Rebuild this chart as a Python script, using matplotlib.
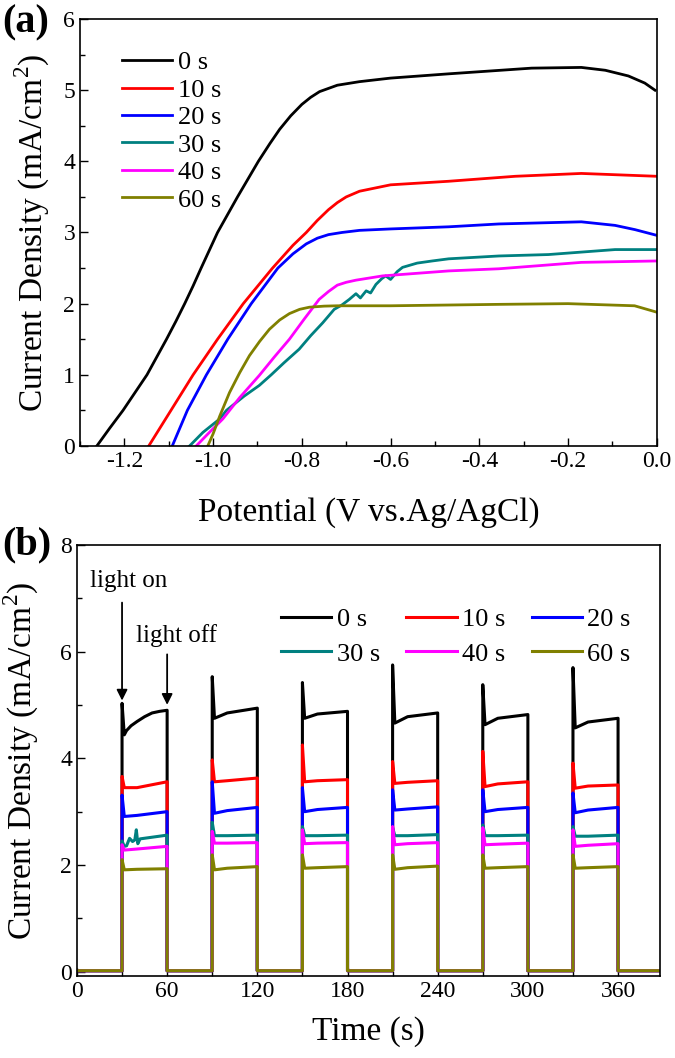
import matplotlib
matplotlib.use("Agg")
import matplotlib.pyplot as plt
from matplotlib.ticker import MultipleLocator

plt.rcParams['font.family'] = ['Liberation Serif', 'DejaVu Serif']
plt.rcParams['mathtext.fontset'] = 'custom'
plt.rcParams['mathtext.rm'] = 'Liberation Serif'

labels = ["0 s", "10 s", "20 s", "30 s", "40 s", "60 s"]
colors = ["#000000", "#ff0000", "#0000ff", "#008080", "#ff00ff", "#808000"]

# (a) LSV curves: potential (V) and current density (mA/cm2)
v0 = [-1.262, -1.233, -1.203, -1.176, -1.149, -1.127, -1.105, -1.084, -1.064, -1.045, -1.027, -0.99, -0.945, -0.898,
      -0.872, -0.85, -0.825, -0.80, -0.78, -0.76, -0.72, -0.67, -0.6, -0.469, -0.282, -0.17, -0.116, -0.064, -0.027, -0.004]
j0 = [0.0, 0.25, 0.5, 0.75, 1.0, 1.25, 1.5, 1.75, 2.0, 2.25, 2.5, 3.0, 3.5, 4.0,
      4.25, 4.45, 4.64, 4.8, 4.9, 4.98, 5.07, 5.12, 5.17, 5.23, 5.31, 5.32, 5.28, 5.2, 5.1, 5.0]
v10 = [-1.145, -1.095, -1.045, -0.99, -0.932, -0.866, -0.82, -0.79, -0.765, -0.74, -0.72, -0.70, -0.67, -0.6, -0.469, -0.319, -0.17, 0.0]
j10 = [0.0, 0.5, 1.0, 1.5, 2.0, 2.5, 2.82, 3.0, 3.17, 3.32, 3.42, 3.5, 3.58, 3.67, 3.72, 3.79, 3.83, 3.79]
v20 = [-1.092, -1.058, -1.015, -0.967, -0.914, -0.854, -0.82, -0.79, -0.765, -0.74, -0.71, -0.67, -0.6, -0.469, -0.356, -0.17, -0.094, -0.049, 0.0]
j20 = [0.0, 0.5, 1.0, 1.5, 2.0, 2.5, 2.7, 2.84, 2.92, 2.97, 3.0, 3.03, 3.05, 3.08, 3.12, 3.15, 3.1, 3.04, 2.96]
v30 = [-1.053, -1.023, -0.985, -0.97, -0.93, -0.896, -0.869, -0.84, -0.806, -0.78, -0.753, -0.727, -0.71, -0.693, -0.678, -0.668,
       -0.655, -0.645, -0.633, -0.62, -0.611, -0.6, -0.585, -0.573, -0.54, -0.506, -0.469, -0.356, -0.244, -0.094, 0.0]
j30 = [0.0, 0.19, 0.38, 0.5, 0.7, 0.85, 1.0, 1.17, 1.36, 1.55, 1.73, 1.92, 1.98, 2.06, 2.14, 2.08,
       2.18, 2.15, 2.27, 2.35, 2.39, 2.34, 2.45, 2.51, 2.57, 2.6, 2.63, 2.67, 2.69, 2.76, 2.76]
v40 = [-1.038, -1.01, -0.978, -0.94, -0.896, -0.862, -0.828, -0.795, -0.761, -0.74, -0.72, -0.70, -0.678, -0.618, -0.469, -0.356, -0.17, 0.0]
j40 = [0.0, 0.18, 0.38, 0.68, 0.99, 1.25, 1.5, 1.78, 2.06, 2.17, 2.26, 2.3, 2.33, 2.39, 2.46, 2.49, 2.58, 2.6]
v60 = [-1.012, -1.0, -0.985, -0.963, -0.94, -0.918, -0.895, -0.873, -0.85, -0.828, -0.805, -0.783, -0.75, -0.72,
       -0.6, -0.356, -0.2, -0.05, 0.0]
j60 = [0.0, 0.17, 0.42, 0.75, 1.03, 1.27, 1.47, 1.64, 1.77, 1.86, 1.92, 1.95, 1.965, 1.97,
       1.97, 1.99, 2.0, 1.97, 1.88]

# (b) chopped-light transients, six on/off cycles
t_on = [30, 90, 150, 210, 270, 330]
t_off = [60, 120, 180, 240, 300, 360]
dark = 0.02
spike = {
    "0 s": [5.03, 5.53, 5.42, 5.75, 5.38, 5.7],
    "10 s": [3.66, 3.97, 4.25, 3.94, 4.13, 3.91],
    "20 s": [3.31, 3.56, 3.45, 3.41, 3.41, 3.35],
    "30 s": [2.45, 2.8, 2.72, 2.7, 2.75, 2.72],
    "40 s": [2.38, 2.63, 2.66, 2.72, 2.7, 2.66],
    "60 s": [2.1, 2.19, 2.19, 2.19, 2.19, 2.19],
}
start = {
    "0 s": [4.44, 4.75, 4.75, 4.66, 4.63, 4.57],
    "10 s": [3.45, 3.56, 3.56, 3.53, 3.47, 3.44],
    "20 s": [2.91, 2.97, 3.0, 3.03, 3.0, 2.98],
    "30 s": [2.35, 2.55, 2.55, 2.55, 2.55, 2.54],
    "40 s": [2.28, 2.41, 2.4, 2.38, 2.38, 2.35],
    "60 s": [1.91, 1.91, 1.94, 1.92, 1.94, 1.94],
}
mid = {
    "0 s": [4.69, 4.85, 4.83, 4.78, 4.75, 4.68],
    "10 s": [3.45, 3.58, 3.58, 3.55, 3.52, 3.48],
    "20 s": [2.93, 3.02, 3.04, 3.05, 3.04, 3.03],
    "30 s": [2.5, 2.55, 2.55, 2.55, 2.55, 2.54],
    "40 s": [2.3, 2.41, 2.41, 2.4, 2.39, 2.37],
    "60 s": [1.92, 1.94, 1.95, 1.95, 1.95, 1.95],
}
end = {
    "0 s": [4.9, 4.94, 4.88, 4.85, 4.82, 4.75],
    "10 s": [3.56, 3.63, 3.6, 3.58, 3.56, 3.5],
    "20 s": [3.0, 3.08, 3.08, 3.09, 3.08, 3.08],
    "30 s": [2.56, 2.56, 2.56, 2.57, 2.56, 2.56],
    "40 s": [2.35, 2.42, 2.42, 2.42, 2.41, 2.4],
    "60 s": [1.93, 1.97, 1.97, 1.98, 1.97, 1.97],
}
# finer readings of the first cycle (curved rise of 0 s, noise of 30 s)
t0_first = [33, 36, 40, 45, 50, 55]
j0_first = [4.52, 4.61, 4.69, 4.78, 4.85, 4.88]
t30_first = [33, 35, 37, 38.5, 39.5, 40.5, 42]
j30_first = [2.36, 2.5, 2.44, 2.47, 2.66, 2.4, 2.49]
first_cycle = {"0 s": (t0_first, j0_first), "30 s": (t30_first, j30_first)}

fig = plt.figure(figsize=(6.75, 10.58), dpi=100)
ax1 = fig.add_axes([0.1185, 0.5785, 0.8545, 0.4035])
ax2 = fig.add_axes([0.114, 0.0775, 0.864, 0.4075])

lsv = [(v0, j0), (v10, j10), (v20, j20), (v30, j30), (v40, j40), (v60, j60)]
for (v, j), c, lab in zip(lsv, colors, labels):
    ax1.plot(v, j, color=c, lw=2.0, label=lab)

ax1.set_xlim(-1.3, 0.0)
ax1.set_ylim(0, 6)
ax1.xaxis.set_minor_locator(MultipleLocator(0.1))
ax1.yaxis.set_major_locator(MultipleLocator(1))
ax1.yaxis.set_minor_locator(MultipleLocator(0.5))
ax1.set_xticks([-1.2, -1.0, -0.8, -0.6, -0.4, -0.2, 0.0])
ax1.set_xticklabels(["-1.2", "-1.0", "-0.8", "-0.6", "-0.4", "-0.2", "0.0"])
ax1.set_xlabel("Potential (V vs.Ag/AgCl)", fontsize=24, labelpad=18)
ax1.set_ylabel("Current Density (mA/cm$^2$)", fontsize=24, labelpad=8)
ax1.legend(loc="upper left", bbox_to_anchor=(0.055, 0.95), frameon=False, fontsize=19,
           handlelength=1.9, handletextpad=0.2, labelspacing=0.15, borderaxespad=0)

for lab, c in zip(labels, colors):
    t = [0]
    j = [dark]
    for k in range(len(t_on)):
        seg_t = [t_on[k], t_on[k], t_on[k] + 1.5, t_on[k] + 10, t_off[k], t_off[k]]
        seg_j = [dark, spike[lab][k], start[lab][k], mid[lab][k], end[lab][k], dark]
        if k == 0 and lab in first_cycle:
            ft, fj = first_cycle[lab]
            seg_t = seg_t[:3] + ft + seg_t[4:]
            seg_j = seg_j[:3] + fj + seg_j[4:]
        t += seg_t
        j += seg_j
    t.append(388)
    j.append(dark)
    ax2.plot(t, j, color=c, lw=2.2, label=lab)

ax2.set_xlim(0, 388)
ax2.set_ylim(-0.08, 8)
ax2.xaxis.set_major_locator(MultipleLocator(60))
ax2.xaxis.set_minor_locator(MultipleLocator(30))
ax2.yaxis.set_major_locator(MultipleLocator(2))
ax2.yaxis.set_minor_locator(MultipleLocator(1))
ax2.set_xlabel("Time (s)", fontsize=24, labelpad=10)
ax2.set_ylabel("Current Density (mA/cm$^2$)", fontsize=24, labelpad=14)
# legend filled row by row: 0/10/20 s on top, 30/40/60 s below
h, l = ax2.get_legend_handles_labels()
order = [0, 3, 1, 4, 2, 5]
ax2.legend([h[i] for i in order], [l[i] for i in order], loc="upper right",
           bbox_to_anchor=(0.967, 0.878), ncol=3, frameon=False, fontsize=19,
           handlelength=1.9, handletextpad=0.2, labelspacing=0.4, columnspacing=1.0,
           borderaxespad=0)

ax2.annotate("", xy=(30, 5.03), xytext=(30, 6.97),
             arrowprops=dict(arrowstyle="-|>", color="k", lw=1.3, mutation_scale=16))
ax2.annotate("", xy=(60, 4.95), xytext=(60, 6.0),
             arrowprops=dict(arrowstyle="-|>", color="k", lw=1.3, mutation_scale=16))
ax2.text(9, 7.33, "light on", fontsize=18, va="center", ha="left")
ax2.text(39, 6.3, "light off", fontsize=18, va="center", ha="left")

for ax in (ax1, ax2):
    ax.tick_params(which="both", direction="in", top=False, right=False, labelsize=17)
    ax.tick_params(which="major", length=6, width=1)
    ax.tick_params(which="minor", length=3.5, width=1)
    for s in ax.spines.values():
        s.set_linewidth(1.2)

fig.text(0.003, 0.996, "(a)", fontsize=29, fontweight="bold", va="top", ha="left")
fig.text(0.003, 0.502, "(b)", fontsize=29, fontweight="bold", va="top", ha="left")

fig.savefig("out.png", dpi=100)
